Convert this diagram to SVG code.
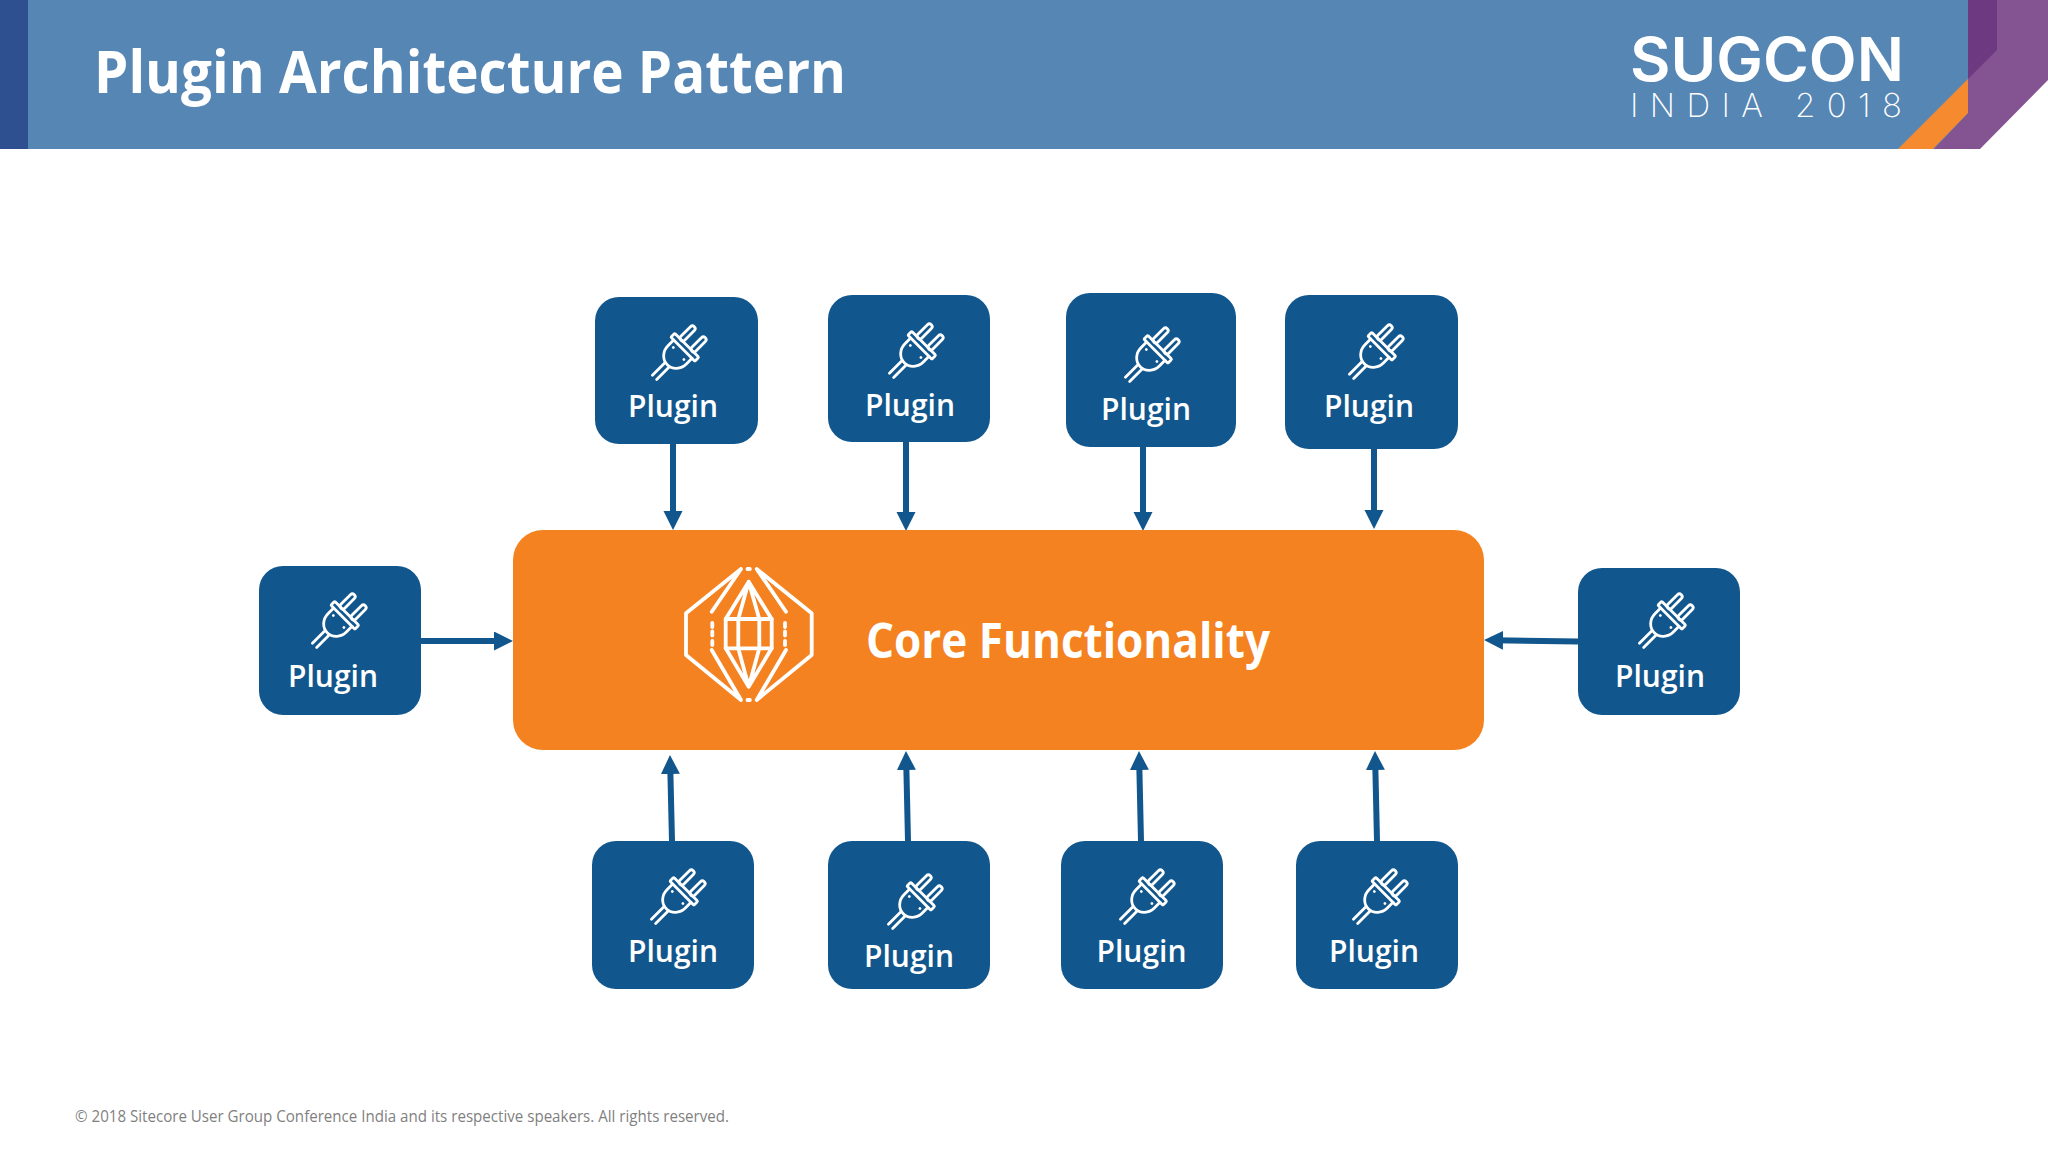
<svg xmlns="http://www.w3.org/2000/svg" xmlns:xlink="http://www.w3.org/1999/xlink" width="2048" height="1152" viewBox="0 0 2048 1152">
<style>
.box{fill:#11568c}
.lbl{font-family:"Open Sans","Noto Sans",sans-serif;font-weight:600;font-size:30px;fill:#fff;text-anchor:middle}
.ic{fill:none;stroke:#fff;stroke-width:2.8;stroke-linecap:round;stroke-linejoin:round}
.cn{stroke:#11568c;stroke-width:6;fill:none;marker-end:url(#ah)}
.gem{fill:none;stroke:#fff;stroke-width:3.8;stroke-linecap:round;stroke-linejoin:round}
</style>
<defs>
<marker id="ah" markerUnits="userSpaceOnUse" markerWidth="20" markerHeight="20" refX="9" refY="9.5" orient="auto"><path d="M0,0L19,9.5L0,19Z" fill="#11568c"/></marker>
<symbol id="plug" overflow="visible" viewBox="-30 -30 60 60" width="60" height="60">
<g class="ic" transform="rotate(45)">
<rect x="-10.5" y="-28" width="5.5" height="19" rx="2.7"/>
<rect x="5" y="-28" width="5.5" height="19" rx="2.7"/>
<rect x="-17" y="-9.5" width="34" height="5.5" rx="1"/>
<path d="M-13,-4V4A13,14 0 0 0 13,4V-4"/>
<path d="M-3,18V36M3,18V36"/>
<path d="M-8,1.5h.1M8,2.5h.1"/>
</g>
</symbol>
</defs>
<rect width="2048" height="1152" fill="#fff"/>
<g id="header">
<rect width="1968" height="149" fill="#5686b4"/>
<rect width="28" height="149" fill="#2e5090"/>
<polygon points="1968,0 2048,0 2048,80 1980,149 1934,149 1968,113" fill="#835392"/>
<polygon points="1968,0 1997,0 1997,50 1968,79" fill="#6d3a82"/>
<polygon points="1968,79 1968,113 1933,149 1898,149" fill="#f58b2e"/>
<text x="94" y="93" font-family="'Open Sans','Noto Sans',sans-serif" font-weight="700" font-size="59" fill="#fff" textLength="752" lengthAdjust="spacingAndGlyphs">Plugin Architecture Pattern</text>
<text x="1630" y="81" font-family="Inter,'Liberation Sans',sans-serif" font-weight="600" font-size="60" fill="#fff" textLength="274" lengthAdjust="spacingAndGlyphs">SUGCON</text>
<text x="1630" y="117" font-family="Inter,'Liberation Sans',sans-serif" font-weight="200" font-size="33" fill="#fff" textLength="272">INDIA 2018</text>
</g>
<g id="connectors">
<path class="cn" d="M673,443V520"/>
<path class="cn" d="M906,442V521"/>
<path class="cn" d="M1143,447V521"/>
<path class="cn" d="M1374,449V519"/>
<path class="cn" d="M421,641H503"/>
<path class="cn" d="M1578,641.5L1494,640.2"/>
<path class="cn" d="M672,841L670.2,765"/>
<path class="cn" d="M908,841L906.2,761"/>
<path class="cn" d="M1141,841L1139.2,761"/>
<path class="cn" d="M1377,841L1375.2,761"/>
</g>
<g id="core">
<rect x="513" y="530" width="971" height="220" rx="30" fill="#f58220"/>
<g class="gem">
<path d="M741,569L686,613.3V655L741,700L711.7,650M741,569L711.7,611.7"/>
<path d="M756.7,569L811.7,613.3V655L756.7,700L786,650M756.7,569L786,611.7"/>
<path d="M712.3,623v4M712.3,631.5v4M712.3,641v4M785,623v4M785,631.5v4M785,641v4M747.5,569h2.4M747.5,700h2.4"/>
<rect x="725.7" y="619" width="46" height="29.3"/>
<path d="M738.3,619V648.3M759.3,619V648.3M748.7,581.7L725.7,619M748.7,581.7L771.7,619M748.7,581.7L738.3,619M748.7,581.7L759.3,619M748.7,686.7L725.7,648.3M748.7,686.7L771.7,648.3M748.7,686.7L738.3,648.3M748.7,686.7L759.3,648.3"/>
</g>
<text x="866" y="658" font-family="'Open Sans','Noto Sans',sans-serif" font-weight="700" font-size="48" fill="#fff" textLength="404" lengthAdjust="spacingAndGlyphs">Core Functionality</text>
</g>
<g id="plugin-top-1"><rect class="box" x="595" y="297" width="163" height="147" rx="24"/><use href="#plug" x="650" y="322"/><text class="lbl" x="673" y="417">Plugin</text></g>
<g id="plugin-top-2"><rect class="box" x="828" y="295" width="162" height="147" rx="24"/><use href="#plug" x="887" y="320"/><text class="lbl" x="910" y="415.5">Plugin</text></g>
<g id="plugin-top-3"><rect class="box" x="1066" y="293" width="170" height="154" rx="24"/><use href="#plug" x="1123" y="324"/><text class="lbl" x="1146" y="420">Plugin</text></g>
<g id="plugin-top-4"><rect class="box" x="1285" y="295" width="173" height="154" rx="24"/><use href="#plug" x="1347" y="321"/><text class="lbl" x="1369" y="417">Plugin</text></g>
<g id="plugin-left"><rect class="box" x="259" y="566" width="162" height="149" rx="24"/><use href="#plug" x="310" y="590"/><text class="lbl" x="333" y="687">Plugin</text></g>
<g id="plugin-right"><rect class="box" x="1578" y="568" width="162" height="147" rx="24"/><use href="#plug" x="1637" y="590"/><text class="lbl" x="1660" y="687">Plugin</text></g>
<g id="plugin-bottom-1"><rect class="box" x="592" y="841" width="162" height="148" rx="24"/><use href="#plug" x="649" y="866"/><text class="lbl" x="673" y="962">Plugin</text></g>
<g id="plugin-bottom-2"><rect class="box" x="828" y="841" width="162" height="148" rx="24"/><use href="#plug" x="886" y="871"/><text class="lbl" x="909" y="967">Plugin</text></g>
<g id="plugin-bottom-3"><rect class="box" x="1061" y="841" width="162" height="148" rx="24"/><use href="#plug" x="1118" y="866"/><text class="lbl" x="1141.5" y="962">Plugin</text></g>
<g id="plugin-bottom-4"><rect class="box" x="1296" y="841" width="162" height="148" rx="24"/><use href="#plug" x="1351" y="866"/><text class="lbl" x="1374" y="962">Plugin</text></g>
<text x="75" y="1122" font-family="'Open Sans','Liberation Sans',sans-serif" font-size="15.5" fill="#7f7f7f" textLength="654" lengthAdjust="spacingAndGlyphs">© 2018 Sitecore User Group Conference India and its respective speakers.  All rights reserved.</text>
</svg>
